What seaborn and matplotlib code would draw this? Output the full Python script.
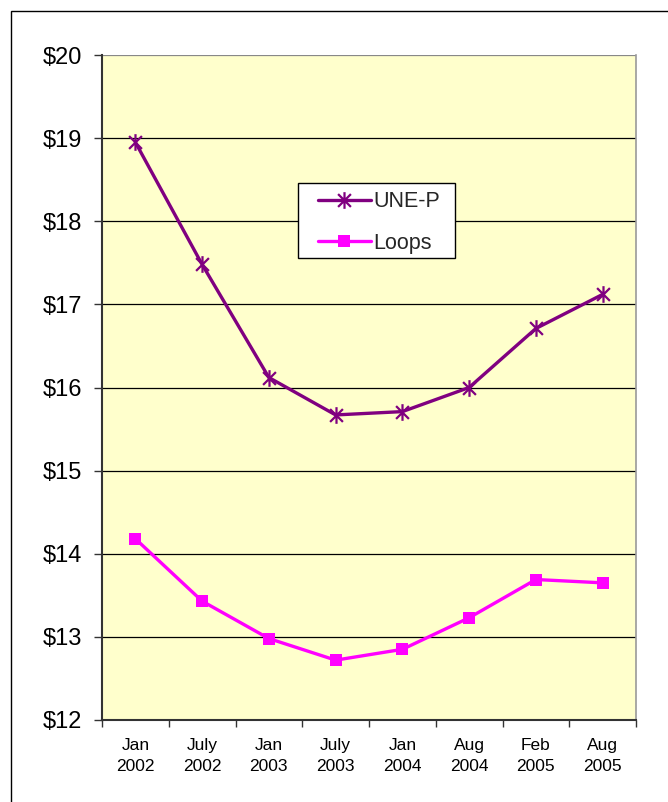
import matplotlib
matplotlib.use("Agg")
import matplotlib.pyplot as plt
import matplotlib.patches as patches
from matplotlib.path import Path
from matplotlib.ticker import FixedLocator, FuncFormatter
import seaborn as sns
import pandas as pd

# data
categories = ["Jan\n2002", "July\n2002", "Jan\n2003", "July\n2003",
              "Jan\n2004", "Aug\n2004", "Feb\n2005", "Aug\n2005"]
une_p = [18.95, 17.48, 16.12, 15.67, 15.71, 16.00, 16.71, 17.12]
loops = [14.18, 13.43, 12.98, 12.72, 12.85, 13.23, 13.69, 13.65]
y_ticks = [12, 13, 14, 15, 16, 17, 18, 19, 20]

sns.set_theme(style="white")
plt.rcParams["font.family"] = ["Liberation Sans", "DejaVu Sans"]

pos = list(range(len(categories)))
df_une = pd.DataFrame({"pos": pos, "value": une_p})
df_loops = pd.DataFrame({"pos": pos, "value": loops})

# Excel style star marker: an x with a vertical bar through it
star = Path([(-1, -1), (1, 1), (-1, 1), (1, -1), (0, -1.3), (0, 1.3)],
            [Path.MOVETO, Path.LINETO, Path.MOVETO, Path.LINETO, Path.MOVETO, Path.LINETO])

fig = plt.figure(figsize=(6.68, 8.02), dpi=100)
ax = fig.add_axes([102 / 668, 82 / 802, 534 / 668, 665 / 802])
ax.set_facecolor("#FFFFCC")

sns.lineplot(data=df_une, x="pos", y="value", ax=ax, color="#800080", linewidth=2.4,
             marker=star, markersize=12, markeredgewidth=1.6, markeredgecolor="#800080",
             label="UNE-P", zorder=3)
sns.lineplot(data=df_loops, x="pos", y="value", ax=ax, color="#FF00FF", linewidth=2.4,
             marker="s", markersize=8.5, markeredgewidth=0, label="Loops", zorder=3)

ax.set_xlim(-0.5, len(categories) - 0.5)
ax.set_ylim(12, 20)
ax.set_xlabel("")
ax.set_ylabel("")

# x axis: labels centred, ticks on category boundaries
ax.set_xticks(pos)
ax.set_xticklabels(categories, fontsize=12.5, linespacing=1.5)
ax.xaxis.set_minor_locator(FixedLocator([p - 0.5 for p in pos] + [len(categories) - 0.5]))
ax.tick_params(axis="x", which="major", length=0, pad=13, colors="black")
ax.tick_params(axis="x", which="minor", bottom=True, length=5, width=1, color="#333333")

ax.set_yticks(y_ticks)
ax.yaxis.set_major_formatter(FuncFormatter(lambda v, p: f"${v:.0f}"))
ax.tick_params(axis="y", which="major", left=True, length=6, width=1, pad=8,
               labelsize=17, colors="black")
ax.tick_params(axis="y", which="major", color="#333333")

ax.yaxis.grid(True, color="black", linewidth=0.9)
ax.get_ygridlines()[-1].set_color("#888888")
ax.set_axisbelow(True)

ax.spines["top"].set_visible(False)
ax.spines["left"].set_color("#333333")
ax.spines["left"].set_linewidth(1.5)
ax.spines["bottom"].set_color("#333333")
ax.spines["bottom"].set_linewidth(1.5)
ax.spines["right"].set_color("#999999")
ax.spines["right"].set_linewidth(1.2)

# legend box drawn separately so it can be wider than the entries
box = patches.Rectangle((0.367, 0.695), 0.294, 0.1128, transform=ax.transAxes,
                        facecolor="white", edgecolor="black", linewidth=1.0, zorder=4)
ax.add_patch(box)
leg = ax.legend(loc="upper left", bbox_to_anchor=(0.4045, 0.795), fontsize=15.5,
                frameon=False, borderpad=0, borderaxespad=0,
                handlelength=2.45, labelspacing=0.95, handletextpad=0.1)
leg.set_zorder(5)

# outer chart border (clipped on the right and bottom in the reference)
border = patches.Rectangle((11 / 668, -0.1), 1.2, 1 - 11 / 802 + 0.1,
                           transform=fig.transFigure, fill=False,
                           edgecolor="black", linewidth=1.0)
fig.patches.append(border)

plt.savefig("out.png", dpi=100, facecolor="white")
